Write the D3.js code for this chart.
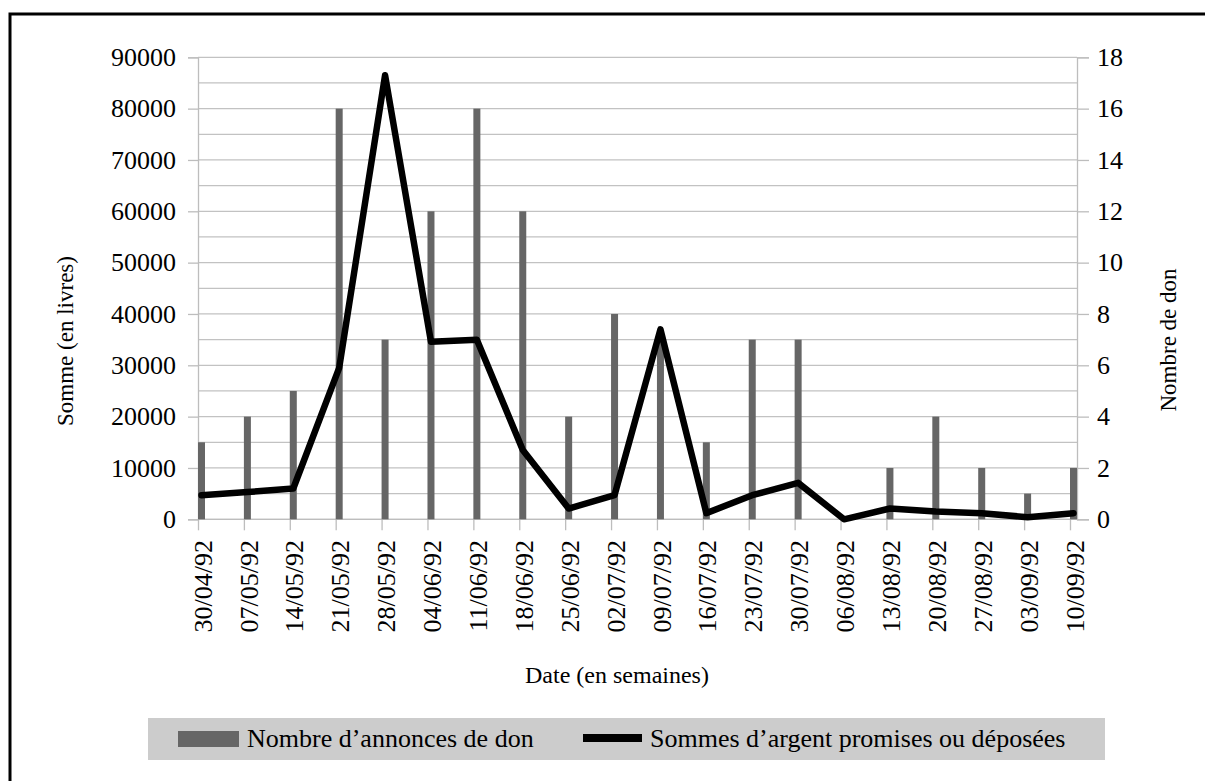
<!DOCTYPE html>
<html>
<head>
<meta charset="utf-8">
<script src="https://cdn.jsdelivr.net/npm/d3@7"></script>
<style>
  html, body { margin: 0; padding: 0; background: #fff; }
  svg { display: block; }
  text { font-family: "Liberation Serif", "Times New Roman", serif; fill: #000; }
</style>
</head>
<body>
<svg id="chart" width="1205" height="781"></svg>
<script>
// ---- Data ----
const dates = ["30/04/92","07/05/92","14/05/92","21/05/92","28/05/92","04/06/92","11/06/92","18/06/92","25/06/92","02/07/92","09/07/92","16/07/92","23/07/92","30/07/92","06/08/92","13/08/92","20/08/92","27/08/92","03/09/92","10/09/92"];
const nombreAnnonces = [3,4,5,16,7,12,16,12,4,8,7,3,7,7,0,2,4,2,1,2];
const sommes = [4700,5300,6000,29500,86500,34600,35000,13500,2100,4700,37000,1200,4700,7100,0,2100,1500,1200,400,1200];
const leftTicks = [0,10000,20000,30000,40000,50000,60000,70000,80000,90000];
const rightTicks = [0,2,4,6,8,10,12,14,16,18];
const gridSteps = d3.range(0, 19, 1);

const svg = d3.select("#chart");

// outer frame
svg.append("rect").attr("x", 10).attr("y", 14).attr("width", 1210).attr("height", 800)
  .attr("fill", "none").attr("stroke", "#000").attr("stroke-width", 3);

const plotLeft = 198, plotRight = 1077, plotTop = 57.3, plotBottom = 519.3;
const barW = 7;

const x = d3.scalePoint().domain(dates).range([plotLeft, plotRight - barW]);
const yL = d3.scaleLinear().domain([0, 90000]).range([plotBottom, plotTop]);
const yR = d3.scaleLinear().domain([0, 18]).range([plotBottom, plotTop]);

// gridlines
svg.append("g").selectAll("line").data(gridSteps).join("line")
  .attr("x1", plotLeft).attr("x2", plotRight)
  .attr("y1", d => yR(d)).attr("y2", d => yR(d))
  .attr("stroke", "#c2c2c2").attr("stroke-width", 1.3);

// left axis
const axL = svg.append("g").attr("transform", `translate(${plotLeft},0)`)
  .call(d3.axisLeft(yL).tickValues(leftTicks).tickSize(10).tickPadding(12).tickFormat(d3.format("d")));
axL.select(".domain").attr("stroke", "#bdbdbd").attr("stroke-width", 1.3);
axL.selectAll(".tick line").attr("stroke", "#bdbdbd").attr("stroke-width", 1.3);
axL.selectAll("text").style("font-family", "Liberation Serif").style("font-size", "26px").attr("fill", "#000");

// right axis
const axR = svg.append("g").attr("transform", `translate(${plotRight},0)`)
  .call(d3.axisRight(yR).tickValues(rightTicks).tickSize(12).tickPadding(8));
axR.select(".domain").attr("stroke", "#bdbdbd").attr("stroke-width", 1.3);
axR.selectAll(".tick line").attr("stroke", "#bdbdbd").attr("stroke-width", 1.3);
axR.selectAll("text").style("font-family", "Liberation Serif").style("font-size", "26px").attr("fill", "#000");

// bottom axis
const axB = svg.append("g").attr("transform", `translate(0,${plotBottom})`)
  .call(d3.axisBottom(x).tickSize(11).tickFormat(""));
axB.select(".domain").attr("d", `M${plotLeft},0H${plotRight}`).attr("stroke", "#bdbdbd").attr("stroke-width", 1.3);
axB.selectAll(".tick line").attr("stroke", "#bdbdbd").attr("stroke-width", 1.3);

// x labels (rotated)
svg.append("g").selectAll("text").data(dates).join("text")
  .attr("transform", d => `translate(${x(d) + barW / 2 + 1},540) rotate(-90)`)
  .attr("text-anchor", "end").attr("dy", "0.35em")
  .style("font-size", "26px")
  .text(d => d);

// bars
svg.append("g").selectAll("rect").data(dates).join("rect")
  .attr("x", d => x(d)).attr("width", barW)
  .attr("y", (d, i) => yR(nombreAnnonces[i]))
  .attr("height", (d, i) => plotBottom - yR(nombreAnnonces[i]))
  .attr("fill", "#666666");

// line
const line = d3.line().x((d, i) => x(dates[i]) + barW / 2).y(d => yL(d));
svg.append("path").datum(sommes).attr("d", line)
  .attr("fill", "none").attr("stroke", "#000").attr("stroke-width", 6.5)
  .attr("stroke-linejoin", "round").attr("stroke-linecap", "round");

// axis titles
svg.append("text").attr("transform", "translate(65,341) rotate(-90)")
  .attr("text-anchor", "middle").attr("dy", "0.35em").style("font-size", "23px")
  .text("Somme (en livres)");
svg.append("text").attr("transform", "translate(1168,340) rotate(-90)")
  .attr("text-anchor", "middle").attr("dy", "0.35em").style("font-size", "23px")
  .text("Nombre de don");
svg.append("text").attr("x", 617).attr("y", 683)
  .attr("text-anchor", "middle").style("font-size", "24px")
  .text("Date (en semaines)");

// legend
const lg = svg.append("g");
lg.append("rect").attr("x", 148).attr("y", 718).attr("width", 957).attr("height", 42).attr("fill", "#cccccc");
lg.append("rect").attr("x", 178).attr("y", 731).attr("width", 61).attr("height", 16).attr("fill", "#666666");
lg.append("text").attr("x", 247).attr("y", 747).style("font-size", "26px").text("Nombre d’annonces de don");
lg.append("line").attr("x1", 583).attr("x2", 642).attr("y1", 738).attr("y2", 738)
  .attr("stroke", "#000").attr("stroke-width", 8);
lg.append("text").attr("x", 650).attr("y", 747).style("font-size", "26px").text("Sommes d’argent promises ou déposées");
</script>
</body>
</html>
